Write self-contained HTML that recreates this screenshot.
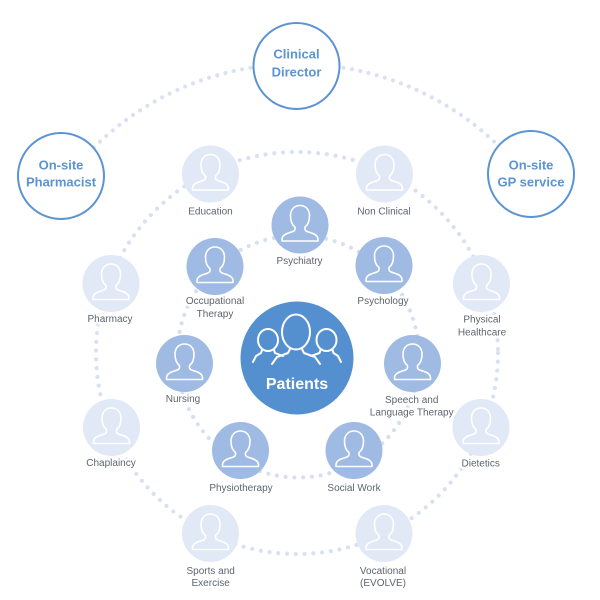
<!DOCTYPE html>
<html><head><meta charset="utf-8"><style>
html,body{margin:0;padding:0;background:#fff;}
svg{display:block;}
.lbl{font-family:"Liberation Sans",Arial,sans-serif;font-size:10px;fill:#5f6470;text-anchor:middle;stroke:#fff;stroke-width:5;paint-order:stroke;stroke-linejoin:round;}
.out{font-family:"Liberation Sans",Arial,sans-serif;font-size:13px;font-weight:bold;fill:#5b93d3;text-anchor:middle;}
</style></head><body>
<svg width="600" height="600" viewBox="0 0 600 600" xmlns="http://www.w3.org/2000/svg">
<defs>
<path id="p" d="M -5 2 C -8.5 -0.5 -9.5 -5 -9.5 -9.5 C -9.5 -15.5 -5.5 -19.5 0 -19.5 C 5.5 -19.5 9.5 -15.5 9.5 -9.5 C 9.5 -5 8.5 -0.5 5 2 L 5 4 C 5 5.5 6.5 6.5 9 7.2 C 15.5 9 18 11 18 14.5 L 18 16 L -18 16 L -18 14.5 C -18 11 -15.5 9 -9 7.2 C -6.5 6.5 -5 5.5 -5 4 Z" fill="none" stroke="#fff" stroke-width="1.6" stroke-linejoin="round"/>
</defs>
<!-- dotted rings -->
<path d="M 65.9 179.5 A 289 289 0 0 1 526.6 177.5" fill="none" stroke="#dbe1f3" stroke-width="4.2" stroke-linecap="round" stroke-dasharray="0 8.5"/>
<circle cx="297" cy="353" r="201" fill="none" stroke="#d9e0f2" stroke-width="4.2" stroke-linecap="round" stroke-dasharray="0 8.8"/>
<circle cx="298" cy="356.5" r="121" fill="none" stroke="#d8dff2" stroke-width="4.2" stroke-linecap="round" stroke-dasharray="0 8.8"/>

<!-- labels -->
<text class="lbl" x="210.5" y="214.5">Education</text>
<text class="lbl" x="384" y="214.5">Non Clinical</text>
<text class="lbl" x="299.5" y="264">Psychiatry</text>
<text class="lbl" x="215" y="304">Occupational</text>
<text class="lbl" x="215" y="317">Therapy</text>
<text class="lbl" x="383" y="304">Psychology</text>
<text class="lbl" x="183" y="402">Nursing</text>
<text class="lbl" x="411.7" y="403">Speech and</text>
<text class="lbl" x="411.7" y="415.5">Language Therapy</text>
<text class="lbl" x="241" y="491">Physiotherapy</text>
<text class="lbl" x="354" y="491">Social Work</text>
<text class="lbl" x="210.7" y="574">Sports and</text>
<text class="lbl" x="210.7" y="586">Exercise</text>
<text class="lbl" x="383" y="574">Vocational</text>
<text class="lbl" x="383" y="586">(EVOLVE)</text>
<text class="lbl" x="110" y="322">Pharmacy</text>
<text class="lbl" x="111" y="466">Chaplaincy</text>
<text class="lbl" x="482" y="322.5">Physical</text>
<text class="lbl" x="482" y="335.5">Healthcare</text>
<text class="lbl" x="480.7" y="466.5">Dietetics</text>

<!-- outer nodes -->
<circle cx="296.5" cy="66" r="43" fill="#fff" stroke="#5b93d3" stroke-width="2"/>
<text class="out" x="296.5" y="58.5">Clinical</text>
<text class="out" x="296.5" y="76.5">Director</text>
<circle cx="61" cy="176" r="43" fill="#fff" stroke="#5b93d3" stroke-width="2"/>
<text class="out" x="61" y="169.5">On-site</text>
<text class="out" x="61" y="186.5">Pharmacist</text>
<circle cx="531" cy="174" r="43" fill="#fff" stroke="#5b93d3" stroke-width="2"/>
<text class="out" x="531" y="169.5">On-site</text>
<text class="out" x="531" y="186.5">GP service</text>

<!-- ring 2 nodes (light) -->
<g fill="#e1e8f6">
<circle cx="210.5" cy="174" r="28.5"/>
<circle cx="384.5" cy="174" r="28.5"/>
<circle cx="111" cy="283.5" r="28.5"/>
<circle cx="481.5" cy="283.5" r="28.5"/>
<circle cx="111.5" cy="427.5" r="28.5"/>
<circle cx="481" cy="427.5" r="28.5"/>
<circle cx="210.5" cy="533.5" r="28.5"/>
<circle cx="384" cy="533.5" r="28.5"/>
</g>
<use href="#p" x="210.5" y="174"/>
<use href="#p" x="384.5" y="174"/>
<use href="#p" x="111" y="283.5"/>
<use href="#p" x="481.5" y="283.5"/>
<use href="#p" x="111.5" y="427.5"/>
<use href="#p" x="481" y="427.5"/>
<use href="#p" x="210.5" y="533.5"/>
<use href="#p" x="384" y="533.5"/>

<!-- ring 1 nodes (medium) -->
<g fill="#9fbae3">
<circle cx="300" cy="225" r="28.5"/>
<circle cx="215" cy="266.5" r="28.5"/>
<circle cx="384" cy="265.5" r="28.5"/>
<circle cx="184.5" cy="363.5" r="28.5"/>
<circle cx="412.5" cy="363.5" r="28.5"/>
<circle cx="240.5" cy="450.5" r="28.5"/>
<circle cx="354" cy="450.5" r="28.5"/>
</g>
<use href="#p" x="300" y="225"/>
<use href="#p" x="215" y="266.5"/>
<use href="#p" x="384" y="265.5"/>
<use href="#p" x="184.5" y="363.5"/>
<use href="#p" x="412.5" y="363.5"/>
<use href="#p" x="240.5" y="450.5"/>
<use href="#p" x="354" y="450.5"/>

<!-- patients -->
<circle cx="297" cy="358" r="56.5" fill="#5490cf"/>
<g fill="none" stroke="#fff" stroke-width="2" stroke-linecap="round" stroke-linejoin="round">
<ellipse cx="296" cy="332" rx="14" ry="17.5"/>
<ellipse cx="268" cy="340" rx="10" ry="11"/>
<ellipse cx="326.5" cy="340" rx="10" ry="11"/>
<path d="M 290 349 L 288 353 L 277 357 L 272 364"/>
<path d="M 302 349 L 304 353 L 315 357 L 320 364"/>
<path d="M 262 350 L 261 353 L 256 356 L 253 362"/>
<path d="M 274 350 L 275 353 L 283 356"/>
<path d="M 332.5 350 L 333.5 353 L 338 356 L 341 362"/>
<path d="M 320.5 350 L 319.5 353 L 311 356"/>
</g>
<text x="297" y="389" font-family="Liberation Sans, Arial, sans-serif" font-size="16" font-weight="bold" fill="#fff" text-anchor="middle">Patients</text>
</svg>
</body></html>
